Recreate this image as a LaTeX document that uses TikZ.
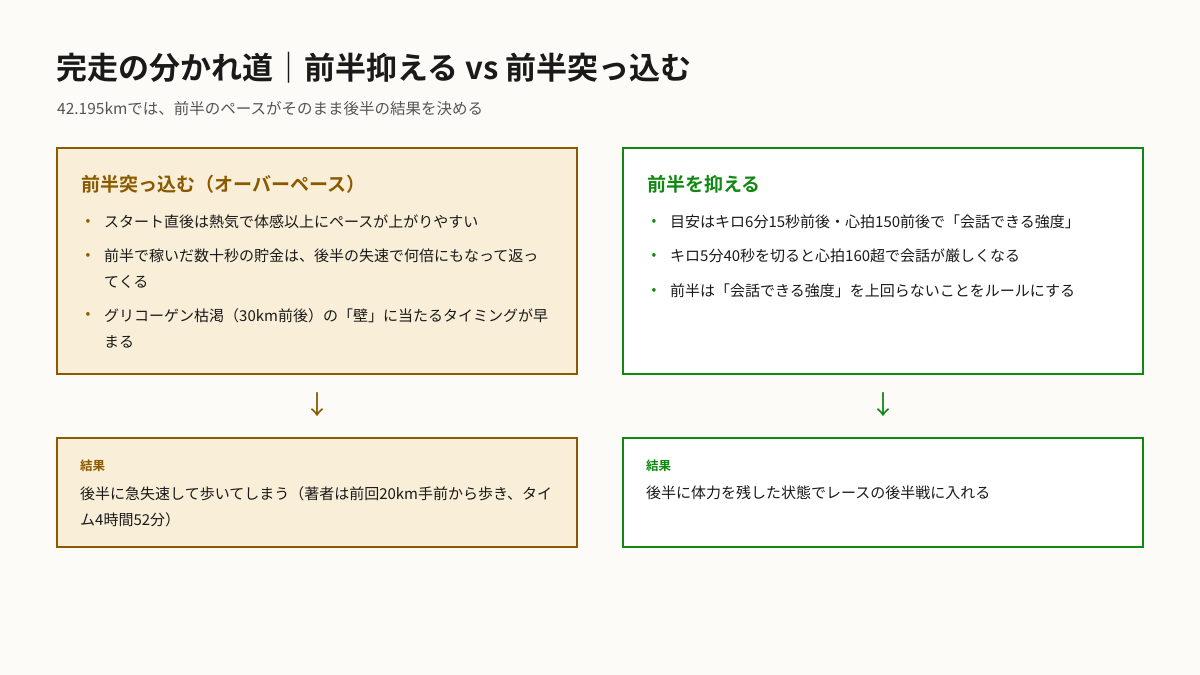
\documentclass[tikz,border=0pt]{standalone}
\usepackage{fontspec}
\setmainfont{Noto Sans CJK JP}[BoldFont={Noto Sans CJK JP Bold}]
\definecolor{bg}{HTML}{FCFBF8}
\definecolor{brn}{HTML}{8B5A00}
\definecolor{brnfill}{HTML}{F9EED7}
\definecolor{grn}{HTML}{118811}
\definecolor{txt}{HTML}{1A1A1A}
\definecolor{sub}{HTML}{555555}
\begin{document}
\begin{tikzpicture}[x=1pt,y=-1pt,
  box/.style={draw=#1,line width=2.2pt},
  tx/.style={anchor=west,inner sep=0pt,text=txt,font=\fontsize{15}{26}\selectfont,align=left},
  bul/.style={anchor=center,inner sep=0pt,text=#1,font=\fontsize{14}{14}\selectfont},
  hd/.style={anchor=west,inner sep=0pt,text=#1,font=\bfseries\fontsize{19}{20}\selectfont},
  lb/.style={anchor=west,inner sep=0pt,text=#1,font=\bfseries\fontsize{12.5}{14}\selectfont},
  arr/.style={anchor=center,inner sep=0pt,text=#1,font=\fontsize{26}{26}\selectfont}]
\fill[bg] (0,0) rectangle (1200,675);
\useasboundingbox (0,0) rectangle (1200,675);
\node[anchor=west,inner sep=0pt,text=txt,font=\bfseries\fontsize{31}{33}\selectfont] (title) at (56,68) {完走の分かれ道｜前半抑える vs 前半突っ込む};
\node[anchor=west,inner sep=0pt,text=sub,font=\fontsize{15.5}{17}\selectfont] (subt) at (57,109) {42.195kmでは、前半のペースがそのまま後半の結果を決める};
% left
\draw[box=brn,fill=brnfill] (57,148) rectangle (577,374);
\node[hd=brn] (lh) at (81,184) {前半突っ込む（オーバーペース）};
\node[bul=brn] (lb1) at (88,222) {•};
\node[tx] (l1) at (104,222) {スタート直後は熱気で体感以上にペースが上がりやすい};
\node[bul=brn] (lb2) at (88,256) {•};
\node[tx,anchor=north west] (l2) at (104,249) {前半で稼いだ数十秒の貯金は、後半の失速で何倍にもなって返っ\\てくる};
\node[bul=brn] (lb3) at (88,315) {•};
\node[tx,anchor=north west] (l3) at (104,308) {グリコーゲン枯渇（30km前後）の「壁」に当たるタイミングが早\\まる};
% right
\draw[box=grn,fill=white] (623,148) rectangle (1143,374);
\node[hd=grn] (rh) at (647,184) {前半を抑える};
\node[bul=grn] (rb1) at (654,222) {•};
\node[tx] (r1) at (670,222) {目安はキロ6分15秒前後・心拍150前後で「会話できる強度」};
\node[bul=grn] (rb2) at (654,256) {•};
\node[tx] (r2) at (670,256) {キロ5分40秒を切ると心拍160超で会話が厳しくなる};
\node[bul=grn] (rb3) at (654,291) {•};
\node[tx] (r3) at (670,291) {前半は「会話できる強度」を上回らないことをルールにする};
% arrows
\node[arr=brn] (la) at (317,405) {↓};
\node[arr=grn] (ra) at (883,405) {↓};
% results
\draw[box=brn,fill=brnfill] (57,438) rectangle (577,547);
\node[lb=brn] (lr) at (80,466) {結果};
\node[tx,anchor=north west] (lrt) at (80,486) {後半に急失速して歩いてしまう（著者は前回20km手前から歩き、タイ\\ム4時間52分）};
\draw[box=grn,fill=white] (623,438) rectangle (1143,547);
\node[lb=grn] (rr) at (646,466) {結果};
\node[tx] (rrt) at (646,493) {後半に体力を残した状態でレースの後半戦に入れる};
\end{tikzpicture}
\end{document}
